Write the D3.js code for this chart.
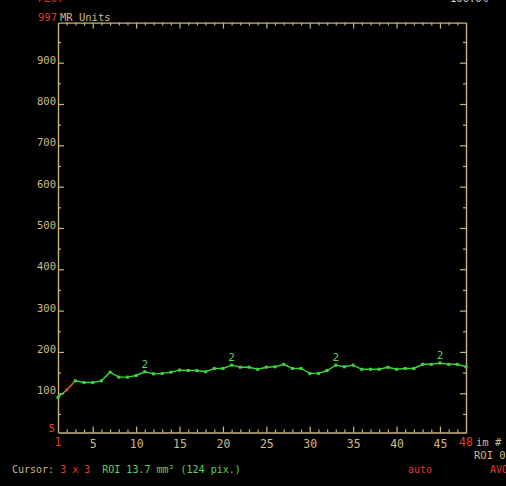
<!DOCTYPE html>
<html>
<head>
<meta charset="utf-8">
<script src="https://cdn.jsdelivr.net/npm/d3@7"></script>
<style>
  html, body { margin: 0; padding: 0; background: #000; }
  svg { display: block; }
  text { font-family: "DejaVu Sans Mono", "Liberation Mono", monospace; }
</style>
</head>
<body>
<script>
// Mean signal in the ROI for each image of the series
const frames = d3.range(1, 49);
const signal = [90, 108, 130, 126, 126, 130, 151, 139, 139, 143,
                152, 147, 148, 151, 156, 155, 155, 152, 160, 160,
                168, 163, 163, 158, 163, 164, 170, 160, 160, 148,
                148, 155, 168, 164, 168, 158, 158, 158, 163, 158,
                160, 160, 170, 170, 173, 170, 170, 164];
// images flagged with a repeat count
const flagged = [11, 21, 33, 45];
const flagText = "2";
// segment drawn in the cursor colour (from image 2 to 3)
const cursorSegment = [2, 3];

const yLabels = [100, 200, 300, 400, 500, 600, 700, 800, 900];
const xLabels = [5, 10, 15, 20, 25, 30, 35, 40, 45];
const yMin = 5, yMax = 997;
const xMin = 1, xMax = 48;

const W = 506, H = 486;
const TAN = "#c9b27c", TAN_TXT = "#cfbb88", RED = "#e23a2e", GREEN = "#3fd43f", GREEN_TXT = "#5fd35f";

const svg = d3.select("body").append("svg").attr("width", W).attr("height", H);
svg.append("rect").attr("width", W).attr("height", H).attr("fill", "#000");

const x = d3.scaleLinear().domain([xMin, xMax]).range([58, 466]);
const y = d3.scaleLinear().domain([yMin, yMax]).range([432.5, 22.6]);

const axisStyle = g => {
  g.select(".domain").attr("stroke", TAN).attr("stroke-width", 1.4);
  g.selectAll(".tick line").attr("stroke", TAN).attr("stroke-width", 1.2);
  g.selectAll("text").attr("fill", TAN_TXT).attr("font-size", 10.5);
};

// minor ticks every 50 on the value axes, every image on the frame axes
const yMinor = d3.range(50, yMax, 50).filter(v => v % 100 !== 0);
const yMajorAll = d3.range(100, yMax, 100);
const xMinor = d3.range(2, xMax).filter(v => v % 5 !== 0);

// left axis: labelled, ticks pointing inward
svg.append("g").attr("transform", `translate(${x(xMin)},0)`)
  .call(d3.axisLeft(y).tickValues(yLabels).tickSizeInner(-6).tickSizeOuter(0).tickPadding(2))
  .call(axisStyle)
  .call(g => g.selectAll("text").attr("dy", "0.05em"));
svg.append("g").attr("transform", `translate(${x(xMin)},0)`)
  .call(d3.axisLeft(y).tickValues(yMinor).tickSizeInner(-3).tickSizeOuter(0).tickFormat(""))
  .call(axisStyle).call(g => g.select(".domain").remove());

// right axis: ticks only
svg.append("g").attr("transform", `translate(${x(xMax)},0)`)
  .call(d3.axisRight(y).tickValues(yMajorAll).tickSizeInner(-6).tickSizeOuter(0).tickFormat(""))
  .call(axisStyle);
svg.append("g").attr("transform", `translate(${x(xMax)},0)`)
  .call(d3.axisRight(y).tickValues(yMinor).tickSizeInner(-3).tickSizeOuter(0).tickFormat(""))
  .call(axisStyle).call(g => g.select(".domain").remove());

// bottom axis: labelled at every fifth image
svg.append("g").attr("transform", `translate(0,${y(yMin)})`)
  .call(d3.axisBottom(x).tickValues(xLabels).tickSizeInner(-6).tickSizeOuter(0).tickPadding(5))
  .call(axisStyle)
  .call(g => g.selectAll("text").attr("font-size", 11.5).attr("dy", "0.9em"));
svg.append("g").attr("transform", `translate(0,${y(yMin)})`)
  .call(d3.axisBottom(x).tickValues(xMinor).tickSizeInner(-3).tickSizeOuter(0).tickFormat(""))
  .call(axisStyle).call(g => g.select(".domain").remove());

// top axis: ticks only
svg.append("g").attr("transform", `translate(0,${y(yMax)})`)
  .call(d3.axisTop(x).tickValues(xLabels).tickSizeInner(-6).tickSizeOuter(0).tickFormat(""))
  .call(axisStyle);
svg.append("g").attr("transform", `translate(0,${y(yMax)})`)
  .call(d3.axisTop(x).tickValues(xMinor).tickSizeInner(-3).tickSizeOuter(0).tickFormat(""))
  .call(axisStyle).call(g => g.select(".domain").remove());

// range end labels in red
const txt = (t, px, py, fill, size, anchor) =>
  svg.append("text").attr("x", px).attr("y", py).attr("fill", fill)
    .attr("font-size", size).attr("text-anchor", anchor || "start").text(t);

txt(String(yMax), 57, 21, RED, 10.5, "end");
txt("MR Units", 60, 21, TAN_TXT, 10.5);
txt(String(yMin), 55, 432, RED, 11, "end");
txt(String(xMin), x(xMin), 446, RED, 11.5, "middle");
txt(String(xMax), x(xMax), 446, RED, 11.5, "middle");
txt("im #", 476, 446, TAN_TXT, 10.5);
txt("ROI 02", 474, 459, TAN_TXT, 10.5);

// header lines running off the top of the window
txt("PLOT", 38, 2, RED, 10.5);
txt("100.0%", 450, 2, "#d8d8d8", 10.5);

// status line
const status = svg.append("text").attr("x", 12).attr("y", 473).attr("font-size", 10);
status.append("tspan").attr("fill", TAN_TXT).text("Cursor: ");
status.append("tspan").attr("fill", RED).text("3 x 3");
status.append("tspan").attr("fill", GREEN_TXT).attr("dx", 12).text("ROI 13.7 mm\u00B2 (124 pix.)");
txt("auto", 408, 473, RED, 10);
txt("AVG", 490, 473, RED, 10);

// signal curve
const pts = frames.map((f, i) => ({ f, v: signal[i] }));
const line = d3.line().x(d => x(d.f)).y(d => y(d.v));
svg.append("path").datum(pts).attr("d", line)
  .attr("fill", "none").attr("stroke", GREEN).attr("stroke-width", 1.4);
const seg = pts.filter(d => d.f >= cursorSegment[0] && d.f <= cursorSegment[1]);
svg.append("path").datum(seg).attr("d", line)
  .attr("fill", "none").attr("stroke", RED).attr("stroke-width", 1.4);

svg.append("g").selectAll("rect").data(pts).join("rect")
  .attr("x", d => x(d.f) - 1.5).attr("y", d => y(d.v) - 1.5)
  .attr("width", 3).attr("height", 3)
  .attr("fill", d => d.f === cursorSegment[0] ? RED : GREEN);

svg.append("g").selectAll("text").data(pts.filter(d => flagged.includes(d.f))).join("text")
  .attr("x", d => x(d.f)).attr("y", d => y(d.v) - 4)
  .attr("text-anchor", "middle").attr("fill", GREEN_TXT).attr("font-size", 11)
  .text(flagText);
</script>
</body>
</html>
